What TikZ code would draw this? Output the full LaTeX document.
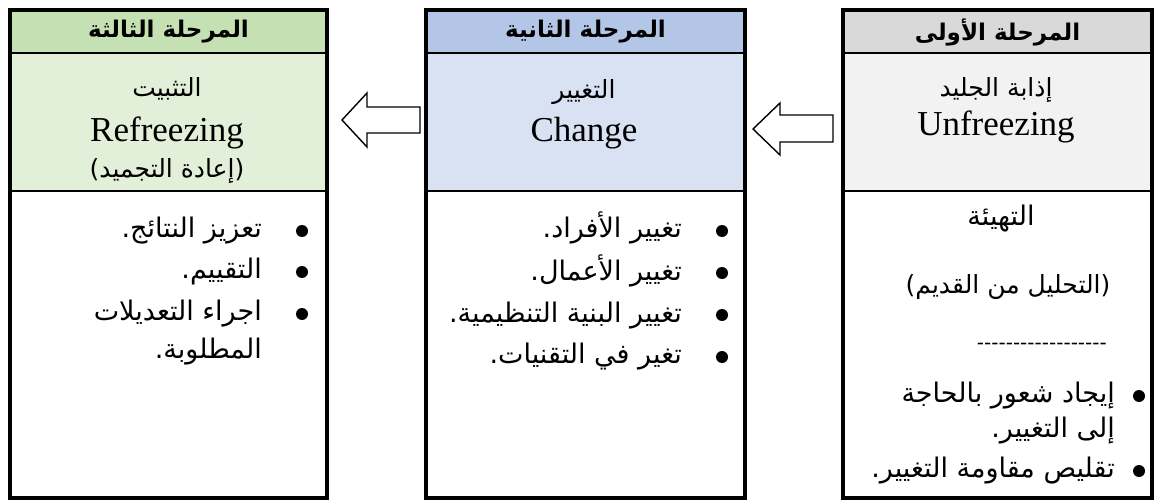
\documentclass[tikz,border=0pt]{standalone}
\usepackage{fontspec}
\setmainfont{Liberation Serif}
\newfontfamily\arabicfont[Script=Arabic]{DejaVu Sans}
\TeXXeTstate=1
\definecolor{greenH}{HTML}{C5E0B3}
\definecolor{greenB}{HTML}{E2EFD9}
\definecolor{blueH}{HTML}{B4C6E7}
\definecolor{blueB}{HTML}{D9E2F3}
\definecolor{grayH}{HTML}{D9D9D9}
\definecolor{grayB}{HTML}{F2F2F2}
\tikzset{cell/.style = {draw, line width=2pt, rectangle, anchor=north west, inner sep=0pt},
         head/.style = {cell, minimum height=42pt, font=\arabicfont\bfseries\fontsize{23}{27}\selectfont},
         mid/.style  = {cell, minimum height=138pt},
         low/.style  = {cell, minimum height=306pt, fill=white},
         frame/.style= {draw, line width=4pt},
         ar/.style   = {font=\arabicfont\fontsize{25}{30}\selectfont, anchor=base, inner sep=0pt},
         en/.style   = {font=\fontsize{35}{40}\selectfont, anchor=base, inner sep=0pt},
         item/.style = {ar, font=\arabicfont\fontsize{27}{32}\selectfont, anchor=base east},
         dot/.style  = {circle, fill=black, inner sep=0pt, minimum size=12pt},
         hollow/.style={draw, line width=1.4pt, fill=white, line join=miter}}

\begin{document}
\begin{tikzpicture}[x=1pt,y=-1pt]
        \useasboundingbox (0,0) rectangle (1154,500);
        % third stage
        \node[head, fill=greenH, minimum width=315pt](h3)at(10,10){\beginR المرحلة الثالثة\endR};
        \node[mid, fill=greenB, minimum width=315pt](m3)at(10,52){};
        \node[low, minimum width=315pt](b3)at(10,190){};
        \draw[frame](h3.north west)rectangle(b3.south east);
        \node[ar](t3a)at(167,97){\beginR التثبيت\endR};
        \node[en](t3b)at(167,142){Refreezing};
        \node[ar](t3c)at(167,178){\beginR (إعادة التجميد)\endR};
        \node[item](l1)at(262,237){\beginR تعزيز النتائج.\endR};
        \node[item](l2)at(262,278){\beginR التقييم.\endR};
        \node[item](l3)at(262,320){\beginR اجراء التعديلات\endR};
        \node[item](l4)at(262,358){\beginR المطلوبة.\endR};
        \node[dot]at(302,231){};
        \node[dot]at(302,272){};
        \node[dot]at(302,314){};
        % second stage
        \node[head, fill=blueH, minimum width=317pt](h2)at(426,10){\beginR المرحلة الثانية\endR};
        \node[mid, fill=blueB, minimum width=317pt](m2)at(426,52){};
        \node[low, minimum width=317pt](b2)at(426,190){};
        \draw[frame](h2.north west)rectangle(b2.south east);
        \node[ar](t2a)at(584,99){\beginR التغيير\endR};
        \node[en](t2b)at(584,142){Change};
        \node[item](c1)at(682,237){\beginR تغيير الأفراد.\endR};
        \node[item](c2)at(682,280){\beginR تغيير الأعمال.\endR};
        \node[item](c3)at(682,322){\beginR تغيير البنية التنظيمية.\endR};
        \node[item](c4)at(682,363){\beginR تغير في التقنيات.\endR};
        \node[dot]at(722,231){};
        \node[dot]at(722,273){};
        \node[dot]at(722,315){};
        \node[dot]at(722,357){};
        % first stage
        \node[head, fill=grayH, minimum width=307pt](h1)at(843,10){\beginR المرحلة الأولى\endR};
        \node[mid, fill=grayB, minimum width=307pt](m1)at(843,52){};
        \node[low, minimum width=307pt](b1)at(843,190){};
        \draw[frame](h1.north west)rectangle(b1.south east);
        \node[ar](t1a)at(996,97){\beginR إذابة الجليد\endR};
        \node[en](t1b)at(996,136){Unfreezing};
        \node[item, anchor=base](u1)at(1001,225){\beginR التهيئة\endR};
        \node[ar](u2)at(1008,293){\beginR (التحليل من القديم)\endR};
        \node[ar, font=\arabicfont\fontsize{20}{24}\selectfont, anchor=base east](u3)at(1107,349){-{}-{}-{}-{}-{}-{}-{}-{}-{}-{}-{}-{}-{}-{}-{}-{}-{}-};
        \node[item](u4)at(1115,402){\beginR إيجاد شعور بالحاجة\endR};
        \node[item](u5)at(1115,437){\beginR إلى التغيير.\endR};
        \node[item](u6)at(1115,477){\beginR تقليص مقاومة التغيير.\endR};
        \node[dot]at(1139,396){};
        \node[dot]at(1139,471){};
        % arrows
        \draw[hollow](342,120)--(367,93)--(367,107)--(420,107)--(420,133)--(367,133)--(367,147)--cycle;
        \draw[hollow](753,129)--(780,103)--(780,115)--(833,115)--(833,142)--(780,142)--(780,155)--cycle;
    \end{tikzpicture}
\end{document}
